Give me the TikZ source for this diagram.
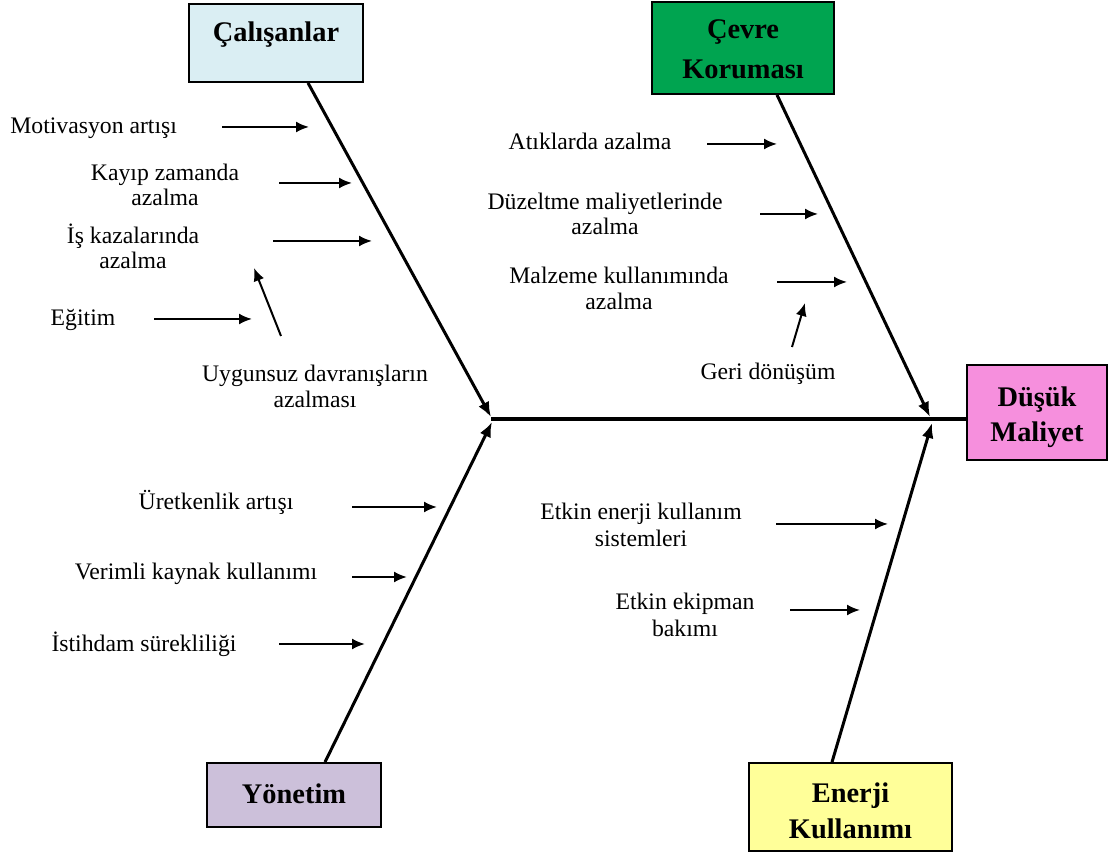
\documentclass[tikz,border=0pt]{standalone}
\usepackage{fontspec}
\setmainfont{Liberation Serif}
\usetikzlibrary{arrows.meta}

% two centred lines; the box's baseline is the first line's baseline
\newcommand\linepair[3]{\vtop{\baselineskip=#1\relax\halign{\hfil##\hfil\cr #2\cr #3\cr}}}

\definecolor{calfill}{RGB}{218,238,243}
\definecolor{cevfill}{RGB}{0,164,80}
\definecolor{dmfill}{RGB}{246,143,221}
\definecolor{yonfill}{RGB}{204,192,218}
\definecolor{enefill}{RGB}{255,255,153}

\tikzset{
  lbl/.style={font=\fontsize{11.85}{12.5}\selectfont, inner sep=0pt, anchor=base},
  head/.style={draw=black, line width=0.9pt, inner sep=0pt, text height=0pt,
    font=\bfseries\fontsize{14.2}{16}\selectfont},
  bone/.style={line width=1.5pt, -{Latex[length=7.5pt,width=6pt]}},
  twig/.style={line width=1pt, -{Latex[length=6.5pt,width=5.5pt]}},
  spine/.style={line width=1.75pt},
}

\begin{document}
\begin{tikzpicture}[x=0.5pt, y=-0.5pt]
\useasboundingbox (0,0) rectangle (1113,854);

% category boxes
\node[head, fill=calfill, minimum width=87pt, minimum height=39pt, text depth=1pt]
  (cal) at (276,43) {Çalışanlar};
\node[head, fill=cevfill, minimum width=91pt, minimum height=46pt, text depth=9pt]
  (cev) at (743,48) {\linepair{20pt}{Çevre}{Koruması}};
\node[head, fill=dmfill, minimum width=70pt, minimum height=47.5pt, text depth=5.5pt]
  (dm) at (1037,412.5) {\linepair{17.5pt}{Düşük}{Maliyet}};
\node[head, fill=yonfill, minimum width=87pt, minimum height=32pt, text height=8pt, text depth=0pt]
  (yon) at (294,795) {Yönetim};
\node[head, fill=enefill, minimum width=101.5pt, minimum height=44pt, text depth=5pt]
  (ene) at (850.5,807) {\linepair{18pt}{Enerji}{Kullanımı}};

% spine and main bones
\coordinate (jl) at (491,419);
\coordinate (jr) at (931,419);
\draw[spine] (jl) -- (jl -| dm.west);
\draw[bone] ([xshift=16pt]cal.south) -- ([yshift=1pt]jl);
\draw[bone] ([xshift=15.5pt]yon.north) -- ([yshift=-1.5pt,xshift=0.5pt]jl);
\draw[bone] ([xshift=17pt]cev.south) -- ([yshift=1pt,xshift=-0.5pt]jr);
\draw[bone] ([xshift=-9.25pt]ene.north) -- ([yshift=-2pt,xshift=0.5pt]jr);

% cause labels
\node[lbl, anchor=base west] (l1) at (10,134) {Motivasyon artışı};
\node[lbl] (l2) at (165,181) {\linepair{12.5pt}{Kayıp zamanda}{azalma}};
\node[lbl] (l3) at (133,244) {\linepair{12.5pt}{İş kazalarında}{azalma}};
\node[lbl] (l4) at (83,326) {Eğitim};
\node[lbl] (l5) at (315,382) {\linepair{13pt}{Uygunsuz davranışların}{azalması}};
\node[lbl] (l6) at (590,150) {Atıklarda azalma};
\node[lbl] (l7) at (605,210) {\linepair{12.5pt}{Düzeltme maliyetlerinde}{azalma}};
\node[lbl] (l8) at (619,284) {\linepair{13pt}{Malzeme kullanımında}{azalma}};
\node[lbl] (l9) at (768,380) {Geri dönüşüm};
\node[lbl] (l10) at (216,510) {Üretkenlik artışı};
\node[lbl] (l11) at (196,580) {Verimli kaynak kullanımı};
\node[lbl] (l12) at (144,652) {İstihdam sürekliliği};
\node[lbl] (l13) at (641,520) {\linepair{13.5pt}{Etkin enerji kullanım}{sistemleri}};
\node[lbl] (l14) at (685,610) {\linepair{13.5pt}{Etkin ekipman}{bakımı}};

% small arrows: tail and tip of each
\foreach \n/\ax/\ay/\bx/\by in {
    1/222/127/309/127, 2/279/183/352/183, 3/273/241/372/241,
    4/154/319/252/319, 5/281/336/254/268,
    6/707/144/777/144, 7/760/214/818/214, 8/777/282/847/282,
    9/792/347/805/303,
    10/352/507/437/507, 11/352/577/407/577, 12/279/644/365/644,
    13/776/524/888/524, 14/790/610/860/610} {
  \coordinate (t\n) at (\ax,\ay);
  \coordinate (h\n) at (\bx,\by);
  \draw[twig] (t\n) -- (h\n);
}
\end{tikzpicture}
\end{document}
